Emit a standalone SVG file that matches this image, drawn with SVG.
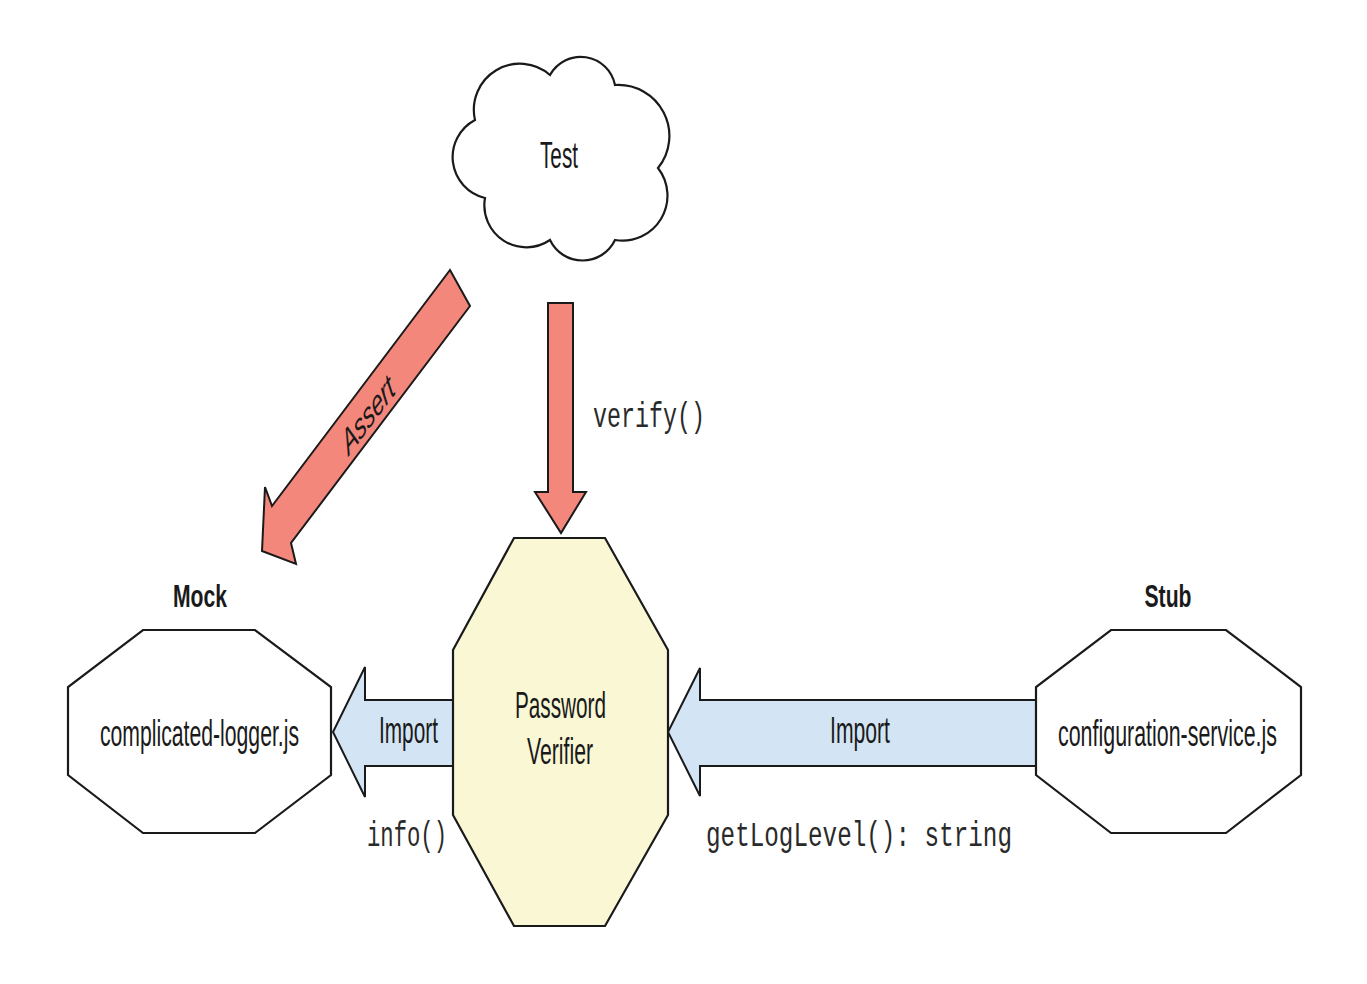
<svg xmlns="http://www.w3.org/2000/svg" width="1367" height="984" viewBox="0 0 1367 984">
<style>
.sans{font-family:"Liberation Sans",Arial,sans-serif;font-size:36px;fill:#1a1a1a}
.bold{font-weight:bold;font-size:32px}
.mono{font-family:"Liberation Mono","Courier New",monospace;font-size:35px;fill:#2a2a2a}
.edge{stroke:#1a1a1a;stroke-width:2;stroke-linejoin:miter}
.red{fill:#f4877c}
.blue{fill:#d3e5f4}
.node{fill:#ffffff;stroke:#1a1a1a;stroke-width:2.2}
.yellow{fill:#f9f7d4}
</style>
<rect width="1367" height="984" fill="#ffffff"/>
<g id="connectors">
  <g id="assert-arrow">
    <polygon class="edge red" points="450,270 470,306 291,543 296,564 262,551 265,487 272,506"/>
    <text class="sans" font-style="italic" font-size="36" x="0" y="12" text-anchor="middle" textLength="102" lengthAdjust="spacingAndGlyphs" transform="translate(368,415) scale(0.6,1) rotate(-38.7)">Assert</text>
  </g>
  <g id="verify-arrow">
    <polygon class="edge red" points="548,303 573,303 573,492 586,492 561,533 535,492 548,492"/>
    <text class="mono" x="593" y="427" textLength="112" lengthAdjust="spacingAndGlyphs">verify()</text>
  </g>
  <g id="import-left">
    <polygon class="edge blue" points="455,700 365,700 365,667 333,732 365,797 365,766 455,766"/>
    <text class="sans" font-size="38" x="408.5" y="743" text-anchor="middle" textLength="59" lengthAdjust="spacingAndGlyphs">Import</text>
    <text class="mono" x="367" y="846" textLength="80" lengthAdjust="spacingAndGlyphs">info()</text>
  </g>
  <g id="import-right">
    <polygon class="edge blue" points="1038,700 700,700 700,668 668,732 700,796 700,766 1038,766"/>
    <text class="sans" font-size="38" x="860" y="743" text-anchor="middle" textLength="60" lengthAdjust="spacingAndGlyphs">Import</text>
    <text class="mono" x="706" y="846" textLength="306" lengthAdjust="spacingAndGlyphs">getLogLevel(): string</text>
  </g>
</g>
<g id="test">
  <path class="node" d="M475,120 A46,46 0 0 1 550,75 A35,35 0 0 1 615,85 A51,51 0 0 1 658,168 A45,45 0 0 1 615,240 A36,36 0 0 1 550,240 A42,42 0 0 1 485,198 A42,42 0 0 1 475,120 Z"/>
  <text class="sans" font-size="38" x="559" y="168" text-anchor="middle" textLength="38" lengthAdjust="spacingAndGlyphs">Test</text>
</g>
<g id="password-verifier">
  <polygon class="node yellow" points="514,538 605,538 668,650 668,815 605,926 514,926 453,815 453,650"/>
  <text class="sans" font-size="34" x="560.5" y="718" text-anchor="middle" textLength="91" lengthAdjust="spacingAndGlyphs">Password</text>
  <text class="sans" font-size="34" x="560" y="764" text-anchor="middle" textLength="66" lengthAdjust="spacingAndGlyphs">Verifier</text>
</g>
<g id="mock">
  <text class="sans bold" x="200" y="607" text-anchor="middle" textLength="54" lengthAdjust="spacingAndGlyphs">Mock</text>
  <polygon class="node" points="143,630 255,630 331,687 331,775 255,833 143,833 68,775 68,687"/>
  <text class="sans" x="199.5" y="746" text-anchor="middle" textLength="199" lengthAdjust="spacingAndGlyphs">complicated-logger.js</text>
</g>
<g id="stub">
  <text class="sans bold" x="1168" y="607" text-anchor="middle" textLength="47" lengthAdjust="spacingAndGlyphs">Stub</text>
  <polygon class="node" points="1111,630 1226,630 1301,687 1301,775 1226,833 1111,833 1036,775 1036,687"/>
  <text class="sans" x="1167.5" y="746" text-anchor="middle" textLength="219" lengthAdjust="spacingAndGlyphs">configuration-service.js</text>
</g>
</svg>
